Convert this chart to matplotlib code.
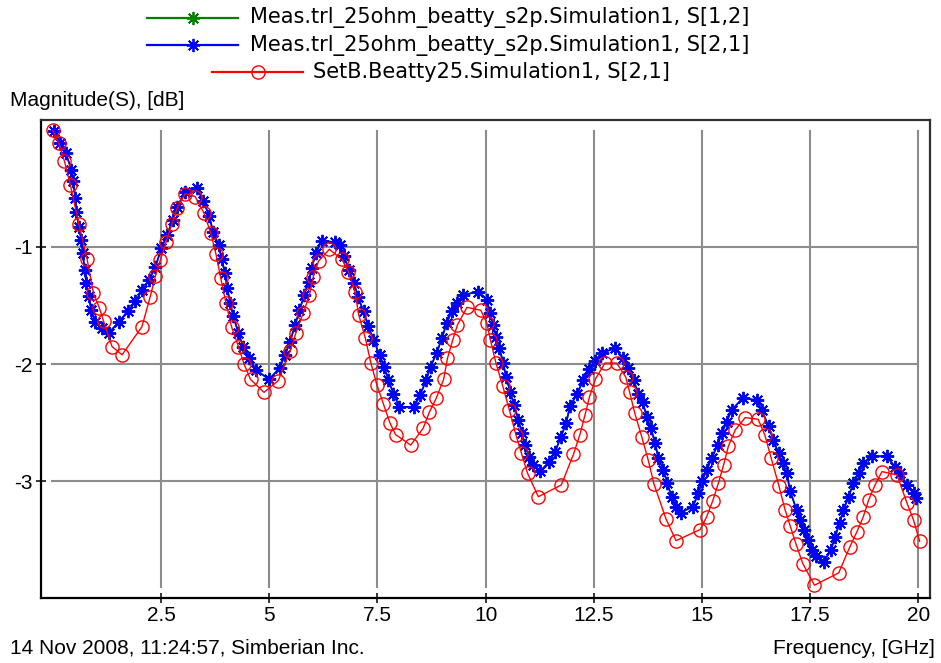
import matplotlib
matplotlib.use("Agg")
import matplotlib.pyplot as plt
from matplotlib.lines import Line2D

# Measured insertion loss, S[2,1] (and S[1,2], identical for the reciprocal line)
meas_freq = [0.02, 0.17, 0.30, 0.43, 0.47, 0.52, 0.545, 0.60, 0.66, 0.69, 0.74, 0.775,
             0.83, 0.89, 0.98, 1.14, 1.29, 1.52, 1.74, 1.91, 2.06, 2.23, 2.37, 2.51,
             2.64, 2.77, 2.87, 3.06, 3.33, 3.48, 3.62, 3.70, 3.83, 3.90, 3.98, 4.03,
             4.10, 4.17, 4.29, 4.40, 4.54, 4.70, 5.00, 5.24, 5.37, 5.48, 5.60, 5.70,
             5.81, 5.91, 5.98, 6.08, 6.21, 6.52, 6.64, 6.73, 6.85, 6.96, 7.06, 7.18,
             7.29, 7.41, 7.55, 7.655, 7.755, 7.87, 8.01, 8.35, 8.49, 8.63, 8.73, 8.87,
             8.99, 9.10, 9.22, 9.33, 9.49, 9.83, 10.03, 10.10, 10.18, 10.24, 10.32, 10.41,
             10.47, 10.57, 10.66, 10.76, 10.84, 10.91, 11.01, 11.09, 11.26, 11.475, 11.61, 11.74,
             11.86, 11.95, 12.12, 12.26, 12.40, 12.53, 12.68, 12.99, 13.185, 13.30, 13.42, 13.53,
             13.63, 13.725, 13.82, 13.92, 13.99, 14.11, 14.20, 14.30, 14.40, 14.51, 14.79, 14.92,
             15.00, 15.11, 15.23, 15.36, 15.46, 15.57, 15.69, 15.94, 16.27, 16.38, 16.54, 16.65,
             16.77, 16.87, 16.96, 17.04, 17.19, 17.27, 17.36, 17.46, 17.54, 17.64, 17.81, 17.98,
             18.08, 18.18, 18.27, 18.39, 18.50, 18.62, 18.73, 18.93, 19.27, 19.46, 19.58, 19.73,
             19.89, 19.94]
meas_s21 = [-0.01, -0.11, -0.20, -0.34, -0.44, -0.585, -0.70, -0.83, -0.94, -1.05, -1.20, -1.31,
            -1.42, -1.54, -1.64, -1.69, -1.735, -1.64, -1.545, -1.465, -1.37, -1.28, -1.17, -1.01,
            -0.90, -0.77, -0.66, -0.53, -0.50, -0.61, -0.74, -0.87, -0.98, -1.10, -1.225, -1.35,
            -1.48, -1.59, -1.735, -1.85, -1.95, -2.05, -2.13, -2.03, -1.92, -1.81, -1.665, -1.54,
            -1.41, -1.30, -1.18, -1.055, -0.945, -0.96, -0.985, -1.08, -1.20, -1.31, -1.43, -1.55,
            -1.675, -1.79, -1.92, -2.02, -2.135, -2.25, -2.365, -2.365, -2.26, -2.135, -2.02, -1.905,
            -1.78, -1.65, -1.55, -1.475, -1.41, -1.38, -1.45, -1.565, -1.665, -1.765, -1.865, -1.99,
            -2.105, -2.235, -2.35, -2.475, -2.59, -2.69, -2.79, -2.86, -2.915, -2.83, -2.745, -2.62,
            -2.505, -2.36, -2.25, -2.135, -2.045, -1.97, -1.905, -1.865, -1.95, -2.035, -2.135, -2.25,
            -2.32, -2.45, -2.545, -2.675, -2.80, -2.90, -3.015, -3.13, -3.215, -3.265, -3.215, -3.10,
            -3.00, -2.90, -2.80, -2.69, -2.59, -2.49, -2.39, -2.29, -2.305, -2.39, -2.53, -2.645,
            -2.76, -2.845, -2.93, -3.085, -3.245, -3.33, -3.415, -3.50, -3.585, -3.64, -3.69, -3.585,
            -3.47, -3.355, -3.245, -3.13, -3.015, -2.93, -2.845, -2.785, -2.785, -2.875, -2.93, -3.03,
            -3.10, -3.14]
meas_s12 = list(meas_s21)

# Simulated S[2,1] of model SetB.Beatty25
sim_freq = [0.00, 0.14, 0.27, 0.405, 0.60, 0.79, 0.94, 1.075, 1.175, 1.37, 1.60, 2.06,
            2.25, 2.37, 2.485, 2.62, 2.755, 2.87, 3.06, 3.29, 3.49, 3.65, 3.77, 3.88,
            4.00, 4.13, 4.29, 4.42, 4.57, 4.88, 5.21, 5.48, 5.62, 5.79, 5.93, 6.02,
            6.14, 6.39, 6.68, 6.83, 6.98, 7.07, 7.22, 7.35, 7.49, 7.64, 7.79, 7.92,
            8.27, 8.56, 8.70, 8.86, 9.03, 9.12, 9.24, 9.35, 9.57, 9.89, 10.03, 10.11,
            10.24, 10.40, 10.55, 10.70, 10.83, 10.97, 11.22, 11.75, 12.03, 12.18, 12.30, 12.40,
            12.54, 12.76, 13.03, 13.24, 13.33, 13.45, 13.61, 13.76, 13.89, 14.17, 14.40, 14.96,
            15.11, 15.25, 15.38, 15.50, 15.61, 15.77, 16.00, 16.30, 16.45, 16.60, 16.78, 16.92,
            17.04, 17.17, 17.33, 17.60, 18.16, 18.42, 18.58, 18.73, 18.85, 19.00, 19.16, 19.51,
            19.74, 19.89, 20.03]
sim_s21 = [-0.005, -0.115, -0.27, -0.47, -0.80, -1.10, -1.395, -1.52, -1.635, -1.85, -1.92, -1.68,
           -1.425, -1.25, -1.11, -0.955, -0.80, -0.67, -0.545, -0.57, -0.71, -0.88, -1.06, -1.265,
           -1.475, -1.68, -1.85, -2.00, -2.13, -2.24, -2.14, -1.89, -1.73, -1.56, -1.41, -1.255,
           -1.12, -1.02, -1.105, -1.21, -1.38, -1.58, -1.775, -1.99, -2.177, -2.34, -2.50, -2.60,
           -2.69, -2.545, -2.41, -2.29, -2.13, -1.95, -1.795, -1.665, -1.515, -1.54, -1.65, -1.79,
           -1.99, -2.19, -2.39, -2.60, -2.76, -2.93, -3.13, -3.03, -2.77, -2.60, -2.43, -2.28,
           -2.125, -1.99, -1.99, -2.11, -2.24, -2.42, -2.62, -2.82, -3.02, -3.32, -3.505, -3.41,
           -3.30, -3.165, -3.015, -2.86, -2.70, -2.56, -2.455, -2.47, -2.60, -2.80, -3.04, -3.24,
           -3.38, -3.53, -3.70, -3.885, -3.78, -3.556, -3.43, -3.30, -3.16, -3.03, -2.916, -2.945,
           -3.186, -3.33, -3.51]

x_ticks = [2.5, 5, 7.5, 10, 12.5, 15, 17.5, 20]
x_tick_labels = ["2.5", "5", "7.5", "10", "12.5", "15", "17.5", "20"]
y_ticks = [-1, -2, -3]
y_tick_labels = ["-1", "-2", "-3"]

series_names = ["Meas.trl_25ohm_beatty_s2p.Simulation1, S[1,2]",
                "Meas.trl_25ohm_beatty_s2p.Simulation1, S[2,1]",
                "SetB.Beatty25.Simulation1, S[2,1]"]

FONT = "Liberation Sans"
LEGEND_FONT = "DejaVu Sans"
FS = 15
GREEN = "#008000"
BLUE = "#0000ff"
RED = "#ff0000"
ASTERISK = (8, 2, 0)
STAR_MS, STAR_MEW = 9.5, 1.3
RING_MS, RING_MEW = 9.5, 1.0

W, H = 941, 663
fig = plt.figure(figsize=(W / 100, H / 100), dpi=100)
fig.patch.set_facecolor("white")

ax = fig.add_axes([41.3 / W, 1 - 598 / H, (930 - 41.3) / W, (598 - 120) / H])
ax.set_xlim(-0.266, 20.27)
ax.set_ylim(-3.994, 0.083)

# inset grid lines that stop short of the frame
for xv in x_ticks:
    ax.axvline(xv, ymin=0.022, ymax=0.978, color="#8c8c8c", lw=1.5, zorder=1)
for yv in y_ticks:
    ax.axhline(yv, xmin=0.012, xmax=0.987, color="#8c8c8c", lw=1.5, zorder=1)

ax.plot(meas_freq, meas_s12, color=GREEN, lw=1.2, marker=ASTERISK, ms=STAR_MS,
        mew=STAR_MEW, mec=GREEN, zorder=2)
ax.plot(meas_freq, meas_s21, color=BLUE, lw=1.2, marker=ASTERISK, ms=STAR_MS,
        mew=STAR_MEW, mec=BLUE, zorder=3)
ax.plot(sim_freq, sim_s21, color=RED, lw=1.0, marker="o", ms=RING_MS, mew=RING_MEW,
        mfc="none", mec=RED, zorder=4)

ax.set_xticks(x_ticks)
ax.set_xticklabels(x_tick_labels, fontfamily=FONT, fontsize=FS)
ax.set_yticks(y_ticks)
ax.set_yticklabels(y_tick_labels, fontfamily=FONT, fontsize=FS)
ax.tick_params(axis="both", direction="inout", length=7, width=1.1, color="black")
ax.tick_params(axis="x", pad=2)
ax.tick_params(axis="y", pad=3)

for side in ["left", "bottom"]:
    ax.spines[side].set_linewidth(1.6)
    ax.spines[side].set_color("black")
for side in ["top", "right"]:
    ax.spines[side].set_linewidth(1.6)
    ax.spines[side].set_color("#303030")

fig.text(10 / W, 1 - 101 / H, "Magnitude(S), [dB]", ha="left", va="center",
         fontfamily=FONT, fontsize=FS)
fig.text(10 / W, 1 - 648 / H, "14 Nov 2008, 11:24:57, Simberian Inc.", ha="left",
         va="center", fontfamily=FONT, fontsize=FS)
fig.text(935 / W, 1 - 648 / H, "Frequency, [GHz]", ha="right", va="center",
         fontfamily=FONT, fontsize=FS)

# legend rows drawn in figure pixel space
legend_rows = [
    (18, 147, 238, 250, GREEN, ASTERISK, series_names[0]),
    (45, 147, 238, 250, BLUE, ASTERISK, series_names[1]),
    (72, 212, 303, 313, RED, "o", series_names[2]),
]
for yc, x0, x1, xt, col, mk, label in legend_rows:
    yf = 1 - yc / H
    fig.add_artist(Line2D([x0 / W, x1 / W], [yf, yf], transform=fig.transFigure,
                          color=col, lw=1.6))
    if mk == "o":
        fig.add_artist(Line2D([(x0 + x1) / 2 / W], [yf], transform=fig.transFigure,
                              marker="o", ms=RING_MS, mfc="none", mec=col,
                              mew=RING_MEW, lw=0))
    else:
        fig.add_artist(Line2D([(x0 + x1) / 2 / W], [yf], transform=fig.transFigure,
                              marker=mk, ms=STAR_MS, mec=col, mew=STAR_MEW, lw=0))
    fig.text(xt / W, yf, label, ha="left", va="center", fontfamily=LEGEND_FONT,
             fontsize=15)

fig.savefig("out.png", dpi=100)
